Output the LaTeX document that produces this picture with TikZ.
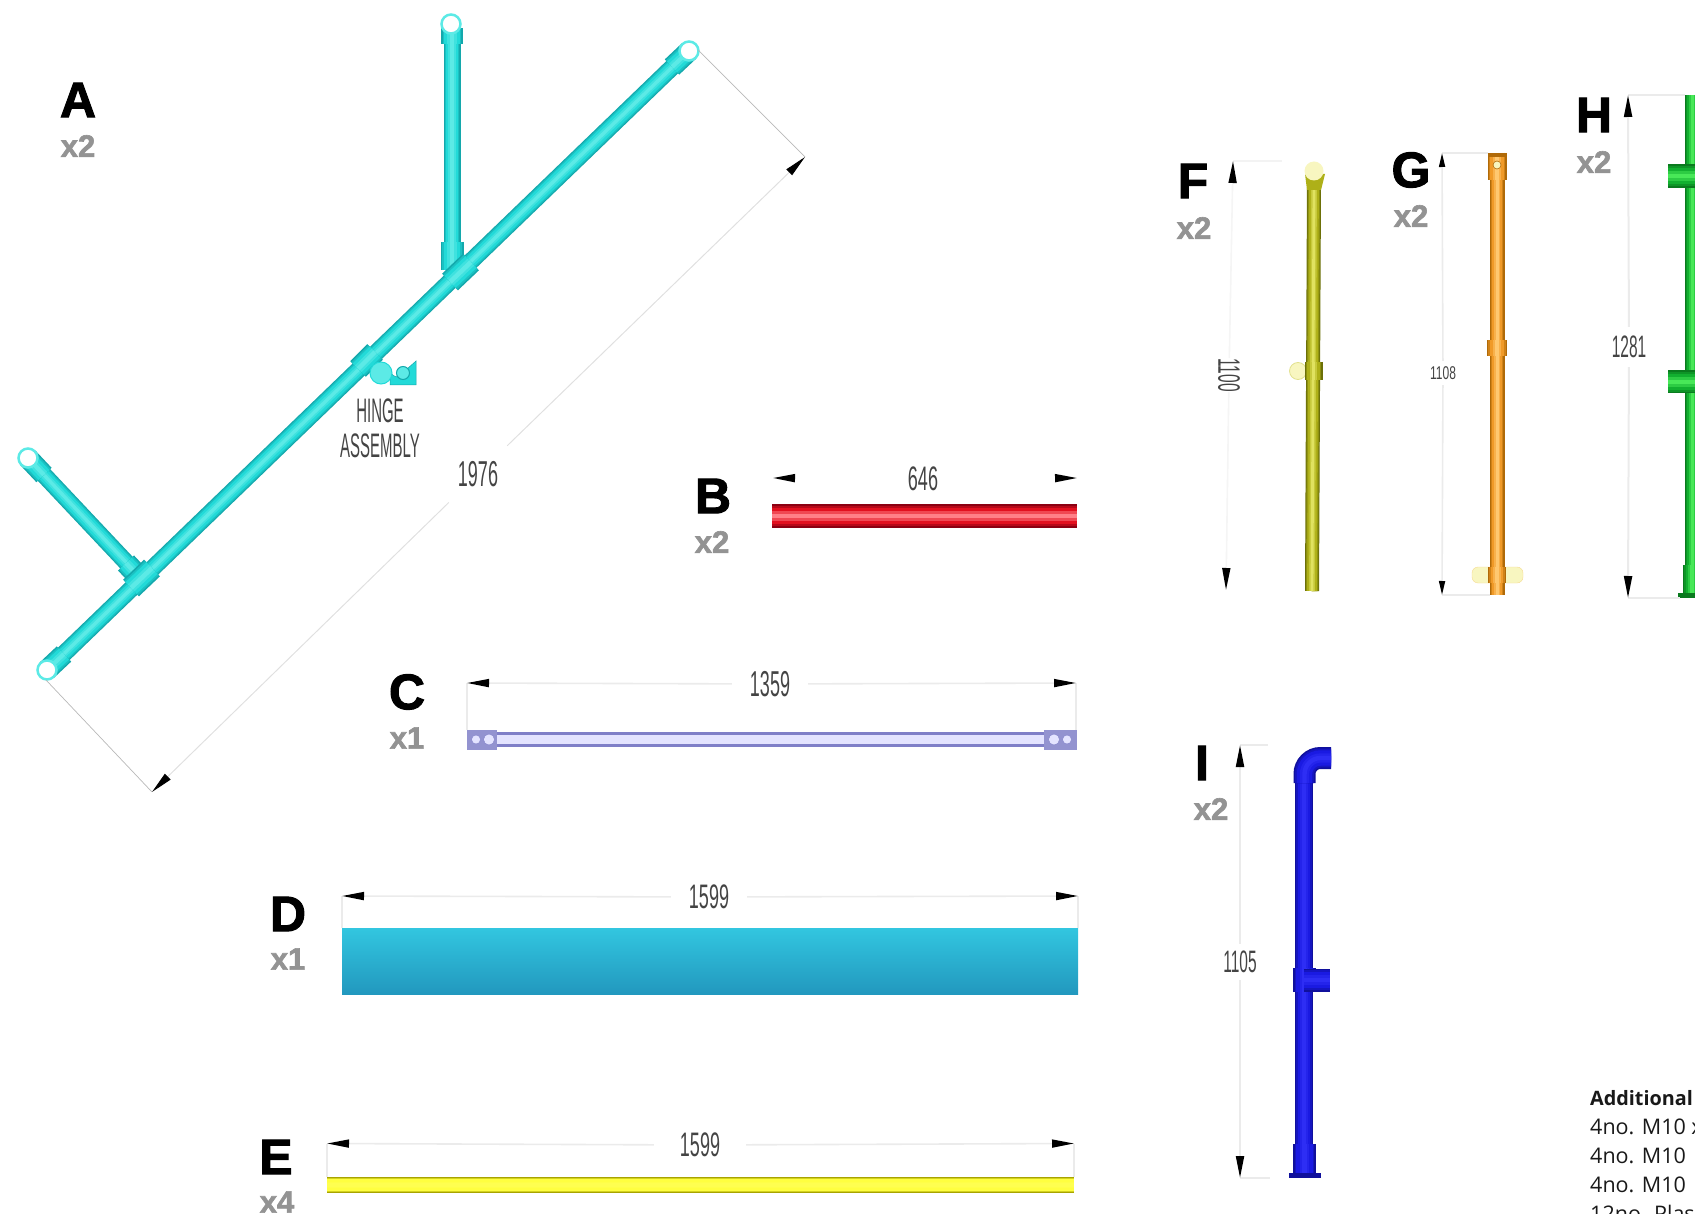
\documentclass[tikz,border=0pt]{standalone}
\usepackage{fontspec}
\usepackage{graphicx}
\usetikzlibrary{arrows.meta}
\setmainfont{Liberation Sans}
\newfontfamily\heavyf[BoldFeatures={FakeBold=2}]{Liberation Sans}
\newfontfamily\bodyf{Open Sans}
\definecolor{cyanA}{HTML}{14A8AC}\definecolor{cyanB}{HTML}{22DAD8}\definecolor{cyanC}{HTML}{5CEAE6}
\definecolor{redA}{HTML}{8C0012}\definecolor{redB}{HTML}{E2101F}\definecolor{redC}{HTML}{FF8088}
\definecolor{yelA}{HTML}{A8A400}\definecolor{yelB}{HTML}{FFFF40}\definecolor{yelC}{HTML}{FFFF50}
\definecolor{olvA}{HTML}{6C7008}\definecolor{olvB}{HTML}{AEB018}\definecolor{olvC}{HTML}{E0E260}
\definecolor{orgA}{HTML}{B06A08}\definecolor{orgB}{HTML}{F09A28}\definecolor{orgC}{HTML}{FFC870}
\definecolor{grnA}{HTML}{0A7A1E}\definecolor{grnB}{HTML}{12B030}\definecolor{grnC}{HTML}{48E858}
\definecolor{bluA}{HTML}{10109C}\definecolor{bluB}{HTML}{1A1AE2}\definecolor{bluC}{HTML}{2E2EF4}
\definecolor{lavA}{HTML}{8080C8}\definecolor{lavC}{HTML}{E4E4FF}
\definecolor{tealT}{HTML}{32C6E0}\definecolor{tealB}{HTML}{2298BE}
\definecolor{qtyG}{HTML}{939393}\definecolor{dimG}{HTML}{444444}\definecolor{faint}{HTML}{EBEBEB}
\definecolor{paleY}{HTML}{F8F6C0}
\newcommand{\pipe}[3]{%
  \draw[line width=#2pt,color=#3A] #1;
  \draw[line width=#2*0.86pt,color=#3A!50!#3B] #1;
  \draw[line width=#2*0.70pt,color=#3B] #1;
  \draw[line width=#2*0.42pt,color=#3B!50!#3C] #1;
  \draw[line width=#2*0.20pt,color=#3C] #1;}
\newcommand{\dimtext}[3]{\fontsize{#1}{#1}\selectfont\scalebox{#2}[1]{#3}}
\tikzset{
  letterlab/.style={inner sep=0pt,text=black,font=\heavyf\bfseries\fontsize{50}{50}\selectfont},
  qtylab/.style={inner sep=0pt,text=qtyG,font=\heavyf\bfseries\fontsize{31}{31}\selectfont},
  dimlab/.style={inner sep=0pt,text=dimG},
  dimline/.style={draw=faint,line width=1.6pt,-{Stealth[length=22pt,width=8pt,inset=0pt,color=black]}},
  extline/.style={draw=faint,line width=1.4pt},
  aext/.style={draw=black!28,line width=0.7pt},
  adim/.style={draw=black!12,line width=1pt,-{Stealth[length=22pt,width=8pt,inset=0pt,color=black]}},
  headA/.style={circle,fill=white,draw=cyanC,line width=2.5pt,minimum size=19pt,inner sep=0pt},
  bodytext/.style={inner sep=0pt,anchor=base west,text=black!90,font=\bodyf\fontsize{21.5}{21.5}\selectfont},
}
\begin{document}
\begin{tikzpicture}[x=1pt,y=-1pt,line cap=butt]
\useasboundingbox (0,0) rectangle (1695,1214);
\clip (0,0) rectangle (1695,1214);

% ---------- A ----------
\node[letterlab] (lA) at (78,100) {A};
\node[qtylab] (qA) at (78,146) {x2};
\pipe{(47,670)--(689,51)}{17}{cyan}
\pipe{(452,24)--(452,265)}{17}{cyan}
\pipe{(28,458)--(141,578)}{17}{cyan}
\pipe{(47,670)--(64,654)}{21}{cyan}
\pipe{(689,51)--(672,67)}{21}{cyan}
\pipe{(452,28)--(452,44)}{22}{cyan}
\pipe{(28,458)--(44,475)}{21}{cyan}
\pipe{(452,242)--(452,270)}{23}{cyan}
\pipe{(126,563)--(141,579)}{22}{cyan}
\pipe{(131,588)--(152,568)}{23}{cyan}
\pipe{(450,282)--(471,262)}{23}{cyan}
\pipe{(358,369)--(375,352)}{22}{cyan}
\node[headA] (hA1) at (47,670) {};
\node[headA] (hA2) at (689,51) {};
\node[headA] (hA3) at (451,24) {};
\node[headA] (hA4) at (28,458) {};
\filldraw[fill=cyanB,draw=cyanA,line width=0.5pt] (390,369) arc[start angle=180,end angle=90,radius=8] -- (416,361) -- (416,385) -- (390,385) -- cycle;
\filldraw[fill=cyanC,draw=cyanB,line width=1pt] (381,373) circle[radius=11];
\filldraw[fill=cyanC,draw=cyanA,line width=1pt] (403,373) circle[radius=6.5];
\node[dimlab] (hinge1) at (380,411) {\dimtext{34}{0.44}{HINGE}};
\node[dimlab] (hinge2) at (380,446) {\dimtext{34}{0.44}{ASSEMBLY}};
\coordinate (aE1) at (46,680);\coordinate (aD1) at (152,792);
\coordinate (aE2) at (698,50);\coordinate (aD2) at (805,157);
\draw[aext] (aE1) -- (aD1);
\draw[aext] (aE2) -- (aD2);
\node[dimlab,minimum width=58pt,minimum height=58pt] (dA) at (478,474) {\dimtext{36}{0.5}{1976}};
\draw[adim] (dA) -- (aD1);
\draw[adim] (dA) -- (aD2);

% ---------- B ----------
\node[letterlab] (lB) at (713,496) {B};
\node[qtylab] (qB) at (712,542) {x2};
\pipe{(772,516)--(1077,516)}{24}{red}
\coordinate (bL) at (773,478);\coordinate (bR) at (1077,478);
\node[dimlab,minimum width=60pt] (dB) at (923,479) {\dimtext{34}{0.53}{646}};
\draw[dimline,draw=white] (dB) -- (bL);
\draw[dimline,draw=white] (dB) -- (bR);

% ---------- C ----------
\node[letterlab] (lC) at (407,692) {C};
\node[qtylab] (qC) at (407,738) {x1};
\draw[line width=15pt,color=lavA] (497,739.5) -- (1047,739.5);
\draw[line width=9pt,color=lavC] (497,739.5) -- (1047,739.5);
\fill[lavA!85] (467,730) rectangle (497,750);
\fill[lavA!85] (1044,730) rectangle (1077,750);
\filldraw[fill=lavC,draw=lavA] (476,739.5) circle[radius=4.5];
\filldraw[fill=lavC,draw=lavA] (489,739.5) circle[radius=5.5];
\filldraw[fill=lavC,draw=lavA] (1054,739.5) circle[radius=5.5];
\filldraw[fill=lavC,draw=lavA] (1067,739.5) circle[radius=4.5];
\coordinate (cL) at (467,683);\coordinate (cR) at (1076,683);
\draw[extline] (cL) -- (467,730);
\draw[extline] (cR) -- (1076,730);
\node[dimlab,minimum width=76pt] (dC) at (770,684) {\dimtext{36}{0.5}{1359}};
\draw[dimline] (dC) -- (cL);
\draw[dimline] (dC) -- (cR);

% ---------- D ----------
\node[letterlab] (lD) at (288,914) {D};
\node[qtylab] (qD) at (288,959) {x1};
\shade[top color=tealT,middle color=tealT,bottom color=tealB] (342,928) rectangle (1078,994);
\coordinate (dL) at (342,896);\coordinate (dR) at (1078,896);
\draw[extline] (dL) -- (342,928);
\draw[extline] (dR) -- (1078,928);
\node[dimlab,minimum width=76pt] (dD) at (709,897) {\dimtext{34}{0.53}{1599}};
\draw[dimline] (dD) -- (dL);
\draw[dimline] (dD) -- (dR);

% ---------- E ----------
\node[letterlab] (lE) at (276,1157) {E};
\node[qtylab] (qE) at (277,1202) {x4};
\pipe{(327,1185)--(1074,1185)}{16}{yel}
\coordinate (eL) at (327,1143.5);\coordinate (eR) at (1074,1143.5);
\draw[extline] (eL) -- (327,1177);
\draw[extline] (eR) -- (1074,1177);
\node[dimlab,minimum width=92pt] (dE) at (700,1145) {\dimtext{34}{0.53}{1599}};
\draw[dimline] (dE) -- (eL);
\draw[dimline] (dE) -- (eR);

% ---------- F ----------
\node[letterlab] (lF) at (1193,181) {F};
\node[qtylab] (qF) at (1194,228) {x2};
\pipe{(1314,185)--(1312,591)}{14}{olv}
\fill[olvB] (1305,174) -- (1325,174) -- (1321,190) -- (1307,190) -- cycle;
\filldraw[fill=paleY,draw=paleY!70!olvB,line width=0.8pt] (1298,371) circle[radius=8.5];
\pipe{(1313.5,362)--(1313.5,380)}{18}{olv}
\fill[paleY] (1314,171) circle[radius=9.5];
\coordinate (fT) at (1233,161);\coordinate (fB) at (1226,590);
\draw[extline,draw=faint!60] (fT) -- (1282,161);
\node[dimlab,minimum height=110pt,rotate=-90] (dF) at (1229,375) {\dimtext{31}{0.5}{1100}};
\draw[dimline,draw=faint!50] (dF) -- (fT);
\draw[dimline,draw=faint!50] (dF) -- (fB);

% ---------- G ----------
\node[letterlab] (lG) at (1411,170) {G};
\node[qtylab] (qG) at (1411,216) {x2};
\filldraw[fill=paleY,draw=paleY!70!orgB,rounded corners=6pt] (1472,567) rectangle (1523,583);
\pipe{(1497,153)--(1497,595)}{15}{org}
\pipe{(1497,153)--(1497,180)}{19}{org}
\fill[orgA] (1488,153) rectangle (1507,157);
\filldraw[fill=paleY,draw=orgA,line width=0.6pt] (1497,165) circle[radius=4];
\pipe{(1497,340)--(1497,356)}{20}{org}
\pipe{(1497,567)--(1497,583)}{18}{org}
\coordinate (gT) at (1442,153);\coordinate (gB) at (1442,595);
\draw[extline] (gT) -- (1488,153);
\draw[extline] (gB) -- (1490,595);
\node[dimlab,minimum height=24pt,fill=white] (dG) at (1443,373) {\dimtext{18.5}{0.65}{1108}};
\draw[dimline,-{Stealth[length=14pt,width=6pt,inset=0pt,color=black]}] (dG) -- (gT);
\draw[dimline,-{Stealth[length=14pt,width=6pt,inset=0pt,color=black]}] (dG) -- (gB);

% ---------- H ----------
\node[letterlab] (lH) at (1594,115) {H};
\node[qtylab] (qH) at (1594,162) {x2};
\pipe{(1692,95)--(1692,597)}{15}{grn}
\pipe{(1668,176)--(1697,176)}{24}{grn}
\pipe{(1668,382)--(1697,382)}{23}{grn}
\pipe{(1692,565)--(1692,595)}{18}{grn}
\fill[grnA] (1678,593) rectangle (1695,598);
\coordinate (hT) at (1628,95);\coordinate (hB) at (1628,598);
\draw[extline] (hT) -- (1685,95);
\draw[extline] (hB) -- (1680,598);
\node[dimlab,minimum height=40pt,minimum width=36pt] (dH) at (1629,347) {\dimtext{31}{0.5}{1281}};
\draw[dimline,line width=2pt] (dH) -- (hT);
\draw[dimline,line width=2pt] (dH) -- (hB);

% ---------- I ----------
\node[letterlab] (lI) at (1202,763) {I};
\node[qtylab] (qI) at (1211,809) {x2};
\pipe{(1304,765)--(1304,1170)}{18}{blu}
\pipe{[rounded corners=16pt](1304.5,783)--(1304.5,758)--(1331,758)}{22}{blu}
\pipe{(1304.5,968)--(1304.5,992)}{23}{blu}
\pipe{(1304,980)--(1330,980)}{23}{blu}
\pipe{(1304.5,1144)--(1304.5,1174)}{23}{blu}
\fill[bluA] (1289,1173) rectangle (1321,1178);
\coordinate (iT) at (1240,745);\coordinate (iB) at (1240,1178);
\draw[extline] (iT) -- (1268,745);
\draw[extline] (iB) -- (1270,1178);
\node[dimlab,minimum height=36pt] (dI) at (1240,962) {\dimtext{31}{0.5}{1105}};
\draw[dimline,line width=2pt] (dI) -- (iT);
\draw[dimline,line width=2pt] (dI) -- (iB);

% ---------- Additional ----------
\node[bodytext,font=\bodyf\bfseries\fontsize{19.8}{19.8}\selectfont] (add0) at (1590,1105) {Additional};
\node[bodytext] (add1) at (1590,1134) {4no. M10 x};
\node[bodytext] (add2) at (1590,1163) {4no. M10};
\node[bodytext] (add3) at (1590,1192) {4no. M10};
\node[bodytext] (add4) at (1590,1221) {12no. Plas};
\end{tikzpicture}
\end{document}
